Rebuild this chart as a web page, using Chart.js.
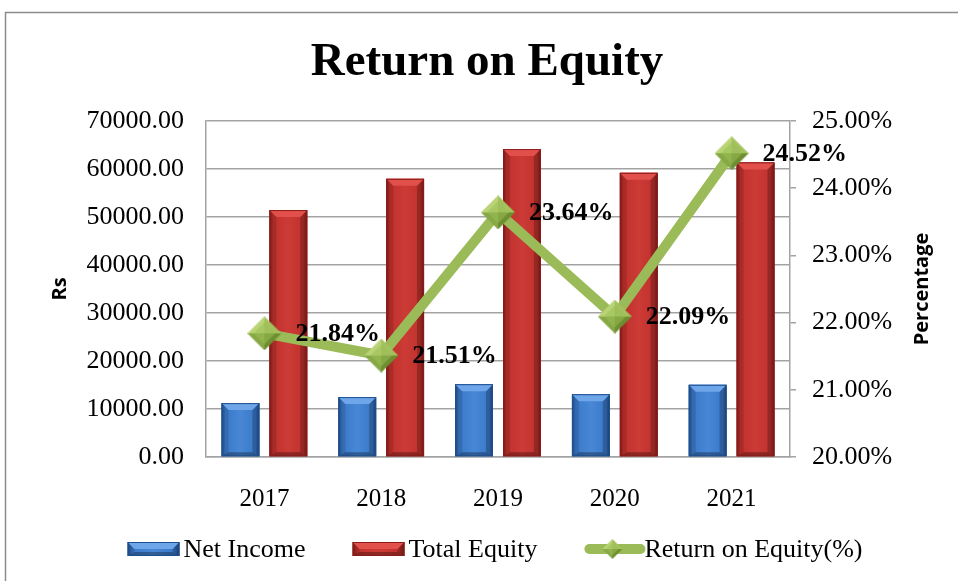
<!DOCTYPE html>
<html>
<head>
<meta charset="utf-8">
<script src="https://cdn.jsdelivr.net/npm/chart.js@4/dist/chart.umd.min.js"></script>
<style>
html,body{margin:0;padding:0;background:#fff;}
#wrap{width:958px;height:581px;}
</style>
</head>
<body>
<div id="wrap"><canvas id="c" width="958" height="581"></canvas></div>
<script>
// ---- data ----
const categories = ['2017', '2018', '2019', '2020', '2021'];
const netIncome = [11230, 12480, 15170, 13080, 15040];
const totalEquity = [51450, 57950, 64150, 59200, 61380];
const roePercent = [21.84, 21.51, 23.64, 22.09, 24.52];
const leftAxisRange = [0, 70000, 10000];
const rightAxisRange = [20, 25, 1];
const chartTitle = 'Return on Equity';
const leftAxisTitle = 'Rs';
const rightAxisTitle = 'Percentage';
const seriesNames = ['Net Income', 'Total Equity', 'Return on Equity(%)'];

const SERIF = '"Liberation Serif", "Times New Roman", serif';
const SANS = '"Open Sans", "Noto Sans", sans-serif';
const GRID = '#a3a3a3';

function makeDiamond(size) {
  const c = document.createElement('canvas');
  c.width = size; c.height = size;
  const g = c.getContext('2d');
  const h = size / 2;
  const tri = (pts, col) => {
    g.beginPath(); g.moveTo(pts[0][0], pts[0][1]);
    for (let i = 1; i < pts.length; i++) g.lineTo(pts[i][0], pts[i][1]);
    g.closePath(); g.fillStyle = col; g.fill();
  };
  tri([[h, 0], [0, h], [h, h]], '#b9d474');
  tri([[h, 0], [size, h], [h, h]], '#a3c25e');
  tri([[0, h], [h, size], [h, h]], '#86a845');
  tri([[size, h], [h, size], [h, h]], '#6e8f30');
  g.beginPath(); g.moveTo(h, size*0.18); g.lineTo(size*0.82, h); g.lineTo(h, size*0.82); g.lineTo(size*0.18, h); g.closePath();
  g.fillStyle = 'rgba(155,190,85,0.55)'; g.fill();
  return c;
}
const diamondBig = makeDiamond(34);
const diamondSmall = makeDiamond(20);

const barStyles = {
  'Net Income': {main: '#3a78c8', light: '#6fa6ea', dark: '#1e4f8e', mid: '#4887d6'},
  'Total Equity': {main: '#c0312d', light: '#e2504b', dark: '#8a1c1a', mid: '#cc3b36'}
};

function bevelBar(ctx, el, st) {
  const w = el.width;
  const l = el.x - w / 2, r = el.x + w / 2;
  const t = Math.min(el.y, el.base), b = Math.max(el.y, el.base);
  const bev = 7;
  ctx.save();
  const gr = ctx.createLinearGradient(l, 0, r, 0);
  gr.addColorStop(0, st.dark);
  gr.addColorStop(0.1, st.main);
  gr.addColorStop(0.5, st.mid);
  gr.addColorStop(0.9, st.main);
  gr.addColorStop(1, st.dark);
  ctx.fillStyle = gr;
  ctx.fillRect(l, t, w, b - t);
  ctx.beginPath(); ctx.moveTo(l, t); ctx.lineTo(l + bev, t + bev); ctx.lineTo(l + bev, b - 4); ctx.lineTo(l, b); ctx.closePath();
  ctx.fillStyle = 'rgba(0,0,0,0.12)'; ctx.fill();
  ctx.beginPath(); ctx.moveTo(r, t); ctx.lineTo(r - bev, t + bev); ctx.lineTo(r - bev, b - 4); ctx.lineTo(r, b); ctx.closePath();
  ctx.fillStyle = 'rgba(0,0,0,0.22)'; ctx.fill();
  ctx.beginPath(); ctx.moveTo(l, b); ctx.lineTo(l + bev, b - 4); ctx.lineTo(r - bev, b - 4); ctx.lineTo(r, b); ctx.closePath();
  ctx.fillStyle = 'rgba(0,0,0,0.3)'; ctx.fill();
  ctx.beginPath(); ctx.moveTo(l, t); ctx.lineTo(r, t); ctx.lineTo(r - bev, t + bev); ctx.lineTo(l + bev, t + bev); ctx.closePath();
  ctx.fillStyle = st.light; ctx.fill();
  ctx.strokeStyle = st.dark; ctx.lineWidth = 1;
  ctx.strokeRect(l + 0.5, t + 0.5, w - 1, b - t - 1);
  ctx.restore();
}

const decoPlugin = {
  id: 'deco',
  afterDatasetDraw(chart, args) {
    const ds = chart.data.datasets[args.index];
    const st = barStyles[ds.label];
    if (!st) return;
    const ctx = chart.ctx;
    args.meta.data.forEach(el => bevelBar(ctx, el, st));
  },
  afterDatasetsDraw(chart) {
    const ctx = chart.ctx;
    chart.data.datasets.forEach((ds, i) => {
      if (ds.type !== 'line') return;
      const meta = chart.getDatasetMeta(i);
      ctx.save();
      ctx.font = 'bold 26px ' + SERIF;
      ctx.fillStyle = '#000';
      ctx.textAlign = 'left';
      ctx.textBaseline = 'middle';
      meta.data.forEach((pt, j) => {
        ctx.fillText(ds.data[j].toFixed(2) + '%', pt.x + 31, pt.y + 1);
      });
      ctx.restore();
    });
  },
  afterDraw(chart) {
    const ctx = chart.ctx;
    const area = chart.chartArea;
    ctx.save();
    ctx.strokeStyle = '#8c8c8c'; ctx.lineWidth = 1.5;
    ctx.strokeRect(5.5, 12.5, 1200, 1200);
    ctx.fillStyle = '#000';
    ctx.font = 'bold 47px ' + SERIF;
    ctx.textAlign = 'center'; ctx.textBaseline = 'middle';
    ctx.fillText(chartTitle, 487, 63);
    ctx.font = 'bold 20px ' + SANS;
    ctx.save(); ctx.translate(60, (area.top + area.bottom) / 2); ctx.rotate(-Math.PI / 2);
    ctx.fillText(leftAxisTitle, 0, 0); ctx.restore();
    ctx.save(); ctx.translate(922, (area.top + area.bottom) / 2); ctx.rotate(-Math.PI / 2);
    ctx.fillText(rightAxisTitle, 0, 0); ctx.restore();
    ctx.font = '26px ' + SERIF;
    ctx.textAlign = 'left';
    const swW = 52, swH = 14, gapT = 4, gapI = 47, cy = 549;
    const widths = seriesNames.map(n => swW + gapT + ctx.measureText(n).width);
    const total = widths.reduce((a, b) => a + b, 0) + gapI * (seriesNames.length - 1);
    let x = 493 - total / 2;
    seriesNames.forEach((n, i) => {
      const st = barStyles[n];
      if (st) {
        bevelBar(ctx, {x: x + swW / 2, y: cy - swH / 2, base: cy + swH / 2, width: swW}, st);
      } else {
        ctx.save();
        ctx.strokeStyle = '#9bbb59'; ctx.lineWidth = 10; ctx.lineCap = 'round';
        ctx.beginPath(); ctx.moveTo(x + 5, cy); ctx.lineTo(x + swW + 4, cy); ctx.stroke();
        ctx.drawImage(diamondSmall, x + swW / 2 + 2 - 10, cy - 10);
        ctx.restore();
      }
      ctx.fillStyle = '#000';
      ctx.fillText(n, x + swW + gapT + (st ? 0 : 4), cy + 1);
      x += widths[i] + gapI;
    });
    ctx.restore();
  }
};

const fmt2 = v => Number(v).toFixed(2);

new Chart(document.getElementById('c'), {
  type: 'bar',
  data: {
    labels: categories,
    datasets: [
      {label: seriesNames[0], data: netIncome, backgroundColor: barStyles['Net Income'].main, borderWidth: 0, yAxisID: 'y', order: 2},
      {label: seriesNames[1], data: totalEquity, backgroundColor: barStyles['Total Equity'].main, borderWidth: 0, yAxisID: 'y', order: 2},
      {type: 'line', label: seriesNames[2], data: roePercent, yAxisID: 'y1', order: 0,
       borderColor: '#9bbb59', borderWidth: 10, tension: 0, fill: false,
       pointStyle: diamondBig, pointRadius: 17, pointHoverRadius: 17, borderJoinStyle: 'miter'}
    ]
  },
  options: {
    responsive: false,
    animation: false,
    devicePixelRatio: 1,
    barPercentage: 0.79,
    categoryPercentage: 0.82,
    layout: {padding: {top: 121, left: 0, right: 0, bottom: 0}},
    plugins: {legend: {display: false}, title: {display: false}, tooltip: {enabled: false}},
    scales: {
      x: {
        grid: {display: true, drawOnChartArea: false, drawTicks: false},
        border: {display: true, color: GRID, width: 1.5},
        ticks: {font: {family: SERIF, size: 25}, color: '#000', padding: 27},
        afterFit: s => { s.height = 124; }
      },
      y: {
        position: 'left', min: leftAxisRange[0], max: leftAxisRange[1],
        ticks: {stepSize: leftAxisRange[2], callback: fmt2, font: {family: SERIF, size: 26}, color: '#000', padding: 22},
        grid: {color: GRID, lineWidth: 1.5, drawTicks: false},
        border: {display: true, color: GRID, width: 1.5},
        afterFit: s => { s.width = 206; }
      },
      y1: {
        position: 'right', min: rightAxisRange[0], max: rightAxisRange[1],
        ticks: {stepSize: rightAxisRange[2], callback: v => fmt2(v) + '%', font: {family: SERIF, size: 26}, color: '#000', padding: 16},
        grid: {drawOnChartArea: false, drawTicks: true, tickLength: 6, color: GRID, lineWidth: 1.5},
        border: {display: true, color: GRID, width: 1.5},
        afterFit: s => { s.width = 168; }
      }
    }
  },
  plugins: [decoPlugin]
});
</script>
</body>
</html>
